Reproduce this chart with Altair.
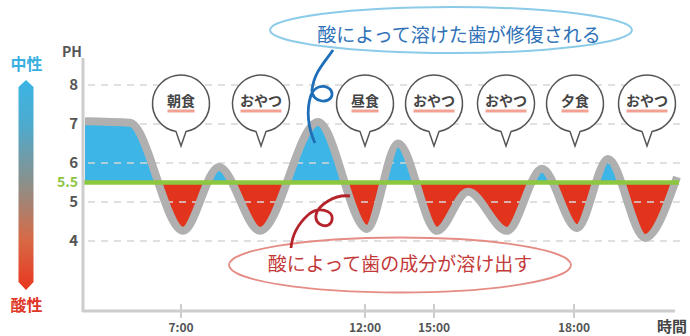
import math
import altair as alt
import pandas as pd

# ---------------- data ----------------
curve_pos = [85, 130, 183, 219, 260, 318, 367, 398, 437, 468, 507, 542, 577, 608, 645, 677]
curve_ph = [7.07, 7.03, 4.26, 5.90, 4.26, 7.05, 4.31, 6.50, 4.26, 5.26, 4.26, 5.85, 4.33, 6.10, 4.08, 5.64]
critical_ph = 5.5
ph_ticks = [4, 5, 6, 7, 8]
ph_tick_labels = ["4", "5", "6", "7", "8"]
time_pos = [181, 365, 434, 574]
time_labels = ["7:00", "12:00", "15:00", "18:00"]
meal_pos = [181, 261, 365, 434, 506, 575, 647]
meal_labels = ["朝食", "おやつ", "昼食", "おやつ", "おやつ", "夕食", "おやつ"]

# ---------------- styling ----------------
FONT = "Noto Sans CJK JP"
BLUE = "#3db5e6"
RED = "#e2341d"
GREEN = "#8dc63f"
GRAY = "#b0b0b0"
AXIS = "#cdcdcd"
LABEL = "#555555"
W, H = 690, 336
PX_PER_PH = 39.0
Y_HI = 8 + 85 / PX_PER_PH
Y_LO = Y_HI - H / PX_PER_PH

xs = alt.Scale(domain=[0, W], nice=False, zero=False)
ys = alt.Scale(domain=[Y_LO, Y_HI], nice=False, zero=False)
X = alt.X("pos:Q", scale=xs, axis=None)
Y = alt.Y("ph:Q", scale=ys, axis=None)


def bez_arc(rx, ry, a0, a1, n):
    out = []
    step = (a1 - a0) / n
    for i in range(n):
        a = a0 + i * step
        b = a + step
        h = 4.0 / 3.0 * math.tan((b - a) / 4.0)
        c1 = (math.cos(a) - h * math.sin(a), math.sin(a) + h * math.cos(a))
        c2 = (math.cos(b) + h * math.sin(b), math.sin(b) - h * math.cos(b))
        p3 = (math.cos(b), math.sin(b))
        out.append("C %.2f %.2f %.2f %.2f %.2f %.2f" % (
            c1[0] * rx, c1[1] * ry, c2[0] * rx, c2[1] * ry, p3[0] * rx, p3[1] * ry))
    return " ".join(out)


def ellipse_path(rx, ry):
    return "M %.2f 0 " % rx + bez_arc(rx, ry, 0, 2 * math.pi, 4) + " Z"


def bubble_path(r, tail):
    g = math.asin(5.0 / r)
    a0 = math.pi / 2 + g
    a1 = math.pi / 2 - g + 2 * math.pi
    return ("M %.2f %.2f " % (r * math.cos(a0), r * math.sin(a0))
            + bez_arc(r, r, a0, a1, 4) + " L 0 %.2f Z" % tail)


one = pd.DataFrame({"a": [0]})
curve_df = pd.DataFrame({"pos": curve_pos, "ph": curve_ph, "base": critical_ph})

off = (max(curve_ph) - critical_ph) / (max(curve_ph) - min(curve_ph))
grad = alt.LinearGradient(
    gradient="linear", x1=0, x2=0, y1=0, y2=1,
    stops=[alt.GradientStop(color=BLUE, offset=0), alt.GradientStop(color=BLUE, offset=off),
           alt.GradientStop(color=RED, offset=off), alt.GradientStop(color=RED, offset=1)])

area = alt.Chart(curve_df).mark_area(interpolate="monotone", fill=grad, opacity=1).encode(
    x=X, y=Y, y2=alt.Y2("base:Q"))

grid_df = pd.DataFrame({"ph": ph_ticks, "lab": ph_tick_labels})
grid = alt.Chart(grid_df).mark_rule(color="#d6d6d6", strokeDash=[7, 6], strokeWidth=1.5).encode(
    y=Y, x=alt.value(88), x2=alt.value(680))

curve = alt.Chart(curve_df).mark_line(interpolate="monotone", color=GRAY, strokeWidth=8,
                                      strokeCap="butt").encode(x=X, y=Y)

green = alt.Chart(pd.DataFrame({"ph": [critical_ph]})).mark_rule(color=GREEN, strokeWidth=4.5).encode(
    y=Y, x=alt.value(83), x2=alt.value(679))

yaxis_line = alt.Chart(one).mark_rule(color=AXIS, strokeWidth=3).encode(
    x=alt.value(83), y=alt.value(58), y2=alt.value(312))
xaxis_line = alt.Chart(one).mark_rule(color=AXIS, strokeWidth=3).encode(
    x=alt.value(82), x2=alt.value(675), y=alt.value(311))

time_df = pd.DataFrame({"pos": time_pos, "label": time_labels})
xticks = alt.Chart(time_df).mark_rule(color=AXIS, strokeWidth=2).encode(
    x=X, y=alt.value(304), y2=alt.value(318))
xlabels = alt.Chart(time_df).mark_text(font=FONT, fontSize=12, fontWeight="bold", color=LABEL,
                                       align="center", baseline="middle").encode(
    x=X, y=alt.value(328), text="label:N")

ylabels = alt.Chart(grid_df).mark_text(font=FONT, fontSize=15, fontWeight="bold", color=LABEL,
                                       align="right", baseline="middle").encode(
    x=alt.value(78), y=Y, text="lab:N")
crit_label = alt.Chart(pd.DataFrame({"ph": [critical_ph], "lab": [str(critical_ph)]})).mark_text(
    font=FONT, fontSize=14, fontWeight="bold", color=GREEN, align="right", baseline="middle").encode(
    x=alt.value(78), y=Y, text="lab:N")

ph_title = alt.Chart(one).mark_text(font=FONT, fontSize=14, fontWeight="bold", color=LABEL,
                                    text="PH", align="center", baseline="middle").encode(
    x=alt.value(72), y=alt.value(53))
time_title = alt.Chart(one).mark_text(font=FONT, fontSize=15, fontWeight="bold", color="#444444",
                                      text="時間", align="center", baseline="middle").encode(
    x=alt.value(672), y=alt.value(327))

# left scale arrow
arrow_grad = alt.LinearGradient(
    gradient="linear", x1=0, x2=0, y1=0, y2=1,
    stops=[alt.GradientStop(color="#3bb5e5", offset=0), alt.GradientStop(color="#4eaacd", offset=0.22),
           alt.GradientStop(color="#8e8f88", offset=0.5), alt.GradientStop(color="#d76a46", offset=0.76),
           alt.GradientStop(color="#e8361e", offset=1)])
arrow_path = "M 0 -105 L 7.5 -98 L 7.5 97 L 0 105 L -7.5 97 L -7.5 -98 Z"
arrow = alt.Chart(one).mark_point(shape=arrow_path, size=4, filled=True, fill=arrow_grad,
                                  strokeWidth=0, opacity=1).encode(
    x=alt.value(26), y=alt.value(185))
neutral = alt.Chart(one).mark_text(font=FONT, fontSize=16, fontWeight="bold", color="#3ab0e0",
                                   text="中性", align="center", baseline="middle").encode(
    x=alt.value(26.5), y=alt.value(65))
acidic = alt.Chart(one).mark_text(font=FONT, fontSize=16, fontWeight="bold", color="#e03828",
                                  text="酸性", align="center", baseline="middle").encode(
    x=alt.value(26.5), y=alt.value(306))

# meal bubbles
meal_df = pd.DataFrame({"pos": meal_pos, "label": meal_labels})
meal_df["w"] = [14 * len(s) - 1 for s in meal_labels]
meal_df["x0"] = meal_df["pos"] - meal_df["w"] / 2
meal_df["x1"] = meal_df["pos"] + meal_df["w"] / 2
bubbles = alt.Chart(meal_df).mark_point(shape=bubble_path(28.5, 42.5), size=4, filled=True,
                                        fill="white", stroke="#555555", strokeWidth=1.5,
                                        opacity=1).encode(x=X, y=alt.value(103.5))
underline = alt.Chart(meal_df).mark_rule(color="#f08a78", strokeWidth=3, opacity=0.8).encode(
    x=alt.X("x0:Q", scale=xs, axis=None), x2="x1:Q", y=alt.value(111))
meal_text = alt.Chart(meal_df).mark_text(font=FONT, fontSize=14, fontWeight="bold", color="#444444",
                                         align="center", baseline="middle").encode(
    x=X, y=alt.value(102), text="label:N")

# annotations
blue_ell = alt.Chart(one).mark_point(shape=ellipse_path(181, 23), size=4, filled=False,
                                     stroke="#8ccbe8", strokeWidth=2, opacity=1).encode(
    x=alt.value(451), y=alt.value(30))
blue_text = alt.Chart(one).mark_text(font=FONT, fontSize=19, color="#2f72b8",
                                     text="酸によって溶けた歯が修復される",
                                     align="center", baseline="middle").encode(
    x=alt.value(459), y=alt.value(36))
blue_curl_path = ("M 333 50 C 325 62 314 72 312 90 C 311 102 330 105 332 95 "
                  "C 333 85 316 82 311 95 C 306 110 308 128 315 143")
blue_curl = alt.Chart(one).mark_point(shape=blue_curl_path, size=4, filled=False, stroke="#1e6fb8",
                                      strokeWidth=2.8, opacity=1).encode(
    x=alt.value(0), y=alt.value(0))

red_ell = alt.Chart(one).mark_point(shape=ellipse_path(171, 27.5), size=4, filled=False,
                                    stroke="#e58c85", strokeWidth=1.8, opacity=1).encode(
    x=alt.value(400), y=alt.value(265))
red_text = alt.Chart(one).mark_text(font=FONT, fontSize=19, color="#c43a3a",
                                    text="酸によって歯の成分が溶け出す",
                                    align="center", baseline="middle").encode(
    x=alt.value(400), y=alt.value(265))
red_curl_path = ("M 350 196 C 335 194 318 205 316 215 C 314 226 330 230 332 220 "
                 "C 334 210 318 206 308 215 C 298 224 292 236 291 248")
red_curl = alt.Chart(one).mark_point(shape=red_curl_path, size=4, filled=False, stroke="#b5232b",
                                     strokeWidth=2.8, opacity=1).encode(
    x=alt.value(0), y=alt.value(0))

chart = alt.layer(
    area, grid, curve, green, yaxis_line, xaxis_line, xticks, xlabels, ylabels, crit_label,
    ph_title, time_title, arrow, neutral, acidic, bubbles, underline, meal_text,
    blue_ell, blue_text, blue_curl, red_ell, red_text, red_curl,
).properties(
    width=W, height=H, padding=0, background="white",
    autosize=alt.AutoSizeParams(type="none"),
).configure_view(stroke=None)

chart.save("out.html", embed_options={"renderer": "svg", "actions": False})
